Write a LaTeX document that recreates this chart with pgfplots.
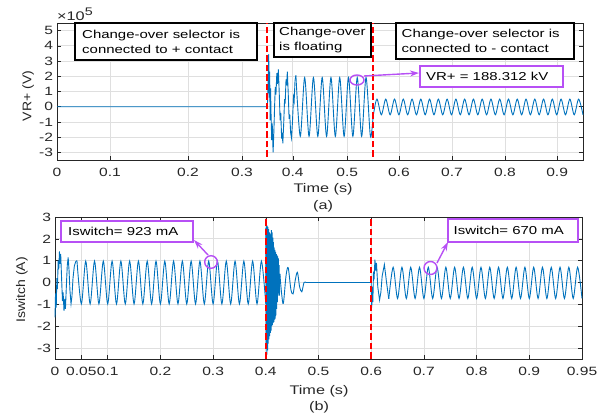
\documentclass[border=0pt]{standalone}
\usepackage{fontspec}
\setmainfont{Liberation Sans}[FakeStretch=1.3]
\newfontfamily\ylfont{Liberation Sans}[FakeStretch=1.12]
\usepackage{pgfplots}
\pgfplotsset{compat=1.18}
\usetikzlibrary{arrows.meta}
\definecolor{mblue}{RGB}{0,114,189}
\definecolor{mpurple}{RGB}{183,80,245}
\definecolor{mgrid}{RGB}{223,223,223}
\definecolor{maxis}{RGB}{38,38,38}
\pgfplotsset{
  mstyle/.style={
    scale only axis, clip=false,
    grid=major, major grid style={draw=mgrid, line width=0.7pt},
    axis line style={draw=maxis, line width=0.8pt},
    every tick/.style={draw=maxis, line width=0.6pt},
    major tick length=4pt, tick align=inside,
    tick label style={font=\fontsize{12}{13}\selectfont, text=maxis},
    xticklabel style={yshift=-4.5pt},
    yticklabel style={xshift=-0.5pt},
  },
}
\tikzset{
  curve/.style={mblue, line width=0.9pt},
  redl/.style={red, line width=2pt, dash pattern=on 6.5pt off 3pt},
  bbox/.style={line width=1.6pt, fill=white},
  pbox/.style={draw=mpurple, line width=1.6pt, fill=white},
  btext/.style={anchor=west, inner sep=0pt, align=left, font=\fontsize{11.5}{15}\selectfont},
  parr/.style={mpurple, line width=1.4pt, -{Stealth[length=9pt,width=6pt]}},
  xl/.style={font=\fontsize{12.5}{14}\selectfont, text=maxis},
  yl/.style={rotate=90, font=\ylfont\fontsize{12.5}{14}\selectfont, text=maxis},
}
\begin{document}
\begin{tikzpicture}[x=1pt,y=1pt]
\path[use as bounding box] (0,0) rectangle (614,414);
% ---------------- (a) ----------------
\begin{axis}[mstyle, at={(57pt,254pt)}, anchor=south west, width=526pt, height=137pt,
  xmin=0, xmax=120, ymin=-3.5, ymax=5.5,
  xtick={0,12.1,29.9,42.2,53.8,66.2,78,90.1,102.2,114.1},
  xticklabels={0,0.1,0.2,0.3,0.4,0.5,0.6,0.7,0.8,0.9},
  ytick={-3,-2,-1,0,1,2,3,4,5},
  yticklabels={-3,-2,-1,0,1,2,3,4,5}]
\addplot[curve] coordinates {(0,0) (48,0) (48.15,1.5) (48.3,3.45) (48.42,0.6) (48.52,2.3) (48.62,-0.9) (48.72,1.2) (48.84,-0.6) (48.98,-2.2) (49.1,-1.1) (49.3,-3.0) (49.48,-1.6) (49.65,0.1) (49.8,1.3) (49.95,0.8) (50.15,2.2) (50.3,1.5) (50.5,2.45) (50.7,0.9) (50.9,-0.9) (51.05,-0.4) (51.25,-2.1) (51.38,-1.7) (51.52,-2.4) (51.72,-1.1) (51.92,0.5) (52.05,0.2) (52.25,1.8) (52.38,1.4) (52.55,2.3) (52.75,0.9) (52.95,-0.8) (53.1,-0.5) (53.3,-1.7) (53.5,-2.05) (53.72,-1.0) (53.95,0.6) (54.1,0.35) (54.3,1.7) (54.5,2.05)};
\addplot[curve, smooth] coordinates {(54.5,2.05) (55.5,-1.95) (56.5,1.92) (57.5,-1.95) (58.5,1.92) (59.5,-1.95) (60.5,1.92) (61.5,-1.95) (62.5,1.92) (63.5,-1.95) (64.5,1.92) (65.5,-1.95) (66.5,1.92) (67.5,-1.95) (68.5,1.92) (69.5,-1.95) (70.5,1.92) (71.5,-1.95) (72.2,-0.5) (73,0.5) (74,-0.53) (75,0.5) (76,-0.53) (77,0.5) (78,-0.53) (79,0.5) (80,-0.53) (81,0.5) (82,-0.53) (83,0.5) (84,-0.53) (85,0.5) (86,-0.53) (87,0.5) (88,-0.53) (89,0.5) (90,-0.53) (91,0.5) (92,-0.53) (93,0.5) (94,-0.53) (95,0.5) (96,-0.53) (97,0.5) (98,-0.53) (99,0.5) (100,-0.53) (101,0.5) (102,-0.53) (103,0.5) (104,-0.53) (105,0.5) (106,-0.53) (107,0.5) (108,-0.53) (109,0.5) (110,-0.53) (111,0.5) (112,-0.53) (113,0.5) (114,-0.53) (115,0.5) (116,-0.53) (117,0.5) (118,-0.53) (119,0.5) (120,-0.53)};
\addplot[redl] coordinates {(48,-3.3) (48,5.5)};
\addplot[redl] coordinates {(72,-3.3) (72,5.5)};
\draw[bbox] (axis cs:4.11,5.5) rectangle (axis cs:45.63,3.07);
\node[btext] at (axis cs:4.11,4.285) [xshift=7pt] {Change-over selector is\\connected to + contact};
\draw[bbox] (axis cs:49.51,5.5) rectangle (axis cs:71.64,3.27);
\node[btext] at (axis cs:49.51,4.385) [xshift=5pt] {Change-over\\is floating};
\draw[bbox] (axis cs:77.34,5.5) rectangle (axis cs:117.95,3.135);
\node[btext] at (axis cs:77.34,4.32) [xshift=5.5pt] {Change-over selector is\\connected to - contact};
\draw[pbox] (axis cs:82.81,2.675) rectangle (axis cs:115.44,1.296);
\node[btext] at (axis cs:82.81,1.985) [xshift=6pt] {VR+ = 188.312 kV};
\draw[mpurple, line width=1.4pt] (axis cs:68.44,1.755) ellipse [x radius=7pt, y radius=5pt];
\draw[parr] (axis cs:69.99,2.018) -- (axis cs:82.59,2.215);
\node[anchor=south west, inner sep=0pt, font=\fontsize{12.5}{14}\selectfont, text=maxis] at (rel axis cs:0,1) [yshift=2.5pt] {×10\textsuperscript{\fontsize{11}{12}\selectfont 5}};
\node[xl] at (axis description cs:0.506,-0.212) {Time (s)};
\node[xl] at (axis description cs:0.506,-0.336) {(a)};
\node[yl] at (axis description cs:-0.055,0.467) {VR+ (V)};
\end{axis}
% ---------------- (b) ----------------
\begin{axis}[mstyle, at={(55pt,55pt)}, anchor=south west, width=527pt, height=142pt,
  xmin=0, xmax=120, ymin=-3.5, ymax=3,
  xtick={0,6,12,24,36,48,60,72,84,96,108,120},
  xticklabels={0,0.05,0.1,0.2,0.3,0.4,0.5,0.6,0.7,0.8,0.9,0.95},
  ytick={-3,-2,-1,0,1,2,3},
  yticklabels={-3,-2,-1,0,1,2,3}]
\addplot[curve] coordinates {(0,-1.6) (0.12,-0.5) (0.28,-1.15) (0.42,0.2) (0.55,-0.3) (0.72,1.0) (0.85,0.6) (1.02,1.42) (1.15,0.85) (1.3,1.3) (1.5,0.2) (1.7,-0.85) (1.85,-0.45) (2.05,-1.3) (2.22,-0.75) (2.38,-1.2) (2.6,-0.1) (2.8,0.8) (3.0,1.15) (3.2,0.55) (3.4,-0.35) (3.65,-0.97) (3.85,-0.65) (4.1,0.2) (4.4,0.75) (4.7,0.95) (5,1.0)};
\addplot[curve, smooth] coordinates {(5,1.0) (6,-0.98) (7,0.98) (8,-0.98) (9,0.98) (10,-0.98) (11,0.98) (12,-0.98) (13,0.98) (14,-0.98) (15,0.98) (16,-0.98) (17,0.98) (18,-0.98) (19,0.98) (20,-0.98) (21,0.98) (22,-0.98) (23,0.98) (24,-0.98) (25,0.98) (26,-0.98) (27,0.98) (28,-0.98) (29,0.98) (30,-0.98) (31,0.98) (32,-0.98) (33,0.98) (34,-0.98) (35,0.98) (36,-0.98) (37,0.98) (38,-0.98) (39,0.98) (40,-0.98) (41,0.98) (42,-0.98) (43,0.98) (44,-0.98) (45,0.98) (46,-0.98) (47,0.98) (48,-0.98)};
\addplot[curve] coordinates {(48.00,2.5) (48.08,-2.9) (48.16,2.65) (48.24,-3.3) (48.32,2.6) (48.40,-3.1) (48.48,2.55) (48.56,-2.8) (48.64,2.45) (48.72,-2.6) (48.80,2.3) (48.88,-2.45) (48.96,2.25) (49.04,-2.3) (49.12,2.2) (49.20,-2.2) (49.28,2.4) (49.36,-2.0) (49.44,2.3) (49.52,-1.95) (49.60,2.05) (49.68,-1.85) (49.76,1.85) (49.84,-1.8) (49.92,1.6) (50.00,-1.7) (50.08,1.5) (50.16,-1.65) (50.24,1.4) (50.32,-1.5) (50.40,1.3) (50.48,-1.2) (50.56,1.25) (50.64,-0.9) (50.72,1.2) (50.80,-0.6) (50.88,1.1) (50.96,-0.5) (51.04,0.8) (51.12,-0.6) (51.2,0.4)};
\addplot[curve, smooth] coordinates {(51.2,0.4) (51.6,-0.5) (52.0,-0.95) (52.6,0.3) (53.1,0.68) (53.7,-0.3) (54.2,-0.52) (54.7,0.1) (55.2,0.47) (55.7,-0.2) (56.2,-0.42) (56.7,0.0) (57.2,0.0)};
\addplot[curve] coordinates {(57.2,0) (72,0) (72.12,-1.15) (72.25,-0.2) (72.38,-0.9) (72.52,0.5) (72.65,0.15) (72.85,1.05) (73.0,0.55) (73.2,0.9) (73.5,-0.2) (73.9,-0.8) (74.2,-0.45) (74.5,0.3) (75.0,0.82) (75.5,0.0) (76.0,-0.75)};
\addplot[curve, smooth] coordinates {(76,-0.75) (77,0.7) (78,-0.73) (79,0.7) (80,-0.73) (81,0.7) (82,-0.73) (83,0.7) (84,-0.73) (85,0.7) (86,-0.73) (87,0.7) (88,-0.73) (89,0.7) (90,-0.73) (91,0.7) (92,-0.73) (93,0.7) (94,-0.73) (95,0.7) (96,-0.73) (97,0.7) (98,-0.73) (99,0.7) (100,-0.73) (101,0.7) (102,-0.73) (103,0.7) (104,-0.73) (105,0.7) (106,-0.73) (107,0.7) (108,-0.73) (109,0.7) (110,-0.73) (111,0.7) (112,-0.73) (113,0.7) (114,-0.73) (115,0.7) (116,-0.73) (117,0.7) (118,-0.73) (119,0.7) (120,-0.73)};
\addplot[redl] coordinates {(48,-3.5) (48,3)};
\addplot[redl] coordinates {(72,-3.5) (72,3)};
\draw[pbox] (axis cs:1.366,2.817) rectangle (axis cs:31.42,1.856);
\node[btext] at (axis cs:1.366,2.336) [xshift=7pt] {Iswitch= 923 mA};
\draw[mpurple, line width=1.4pt] (axis cs:35.52,0.94) circle [radius=6.3pt];
\draw[parr] (axis cs:34.84,1.261) -- (axis cs:31.65,1.947);
\draw[pbox] (axis cs:89.49,2.908) rectangle (axis cs:119.09,1.856);
\node[btext] at (axis cs:89.49,2.382) [xshift=5.5pt] {Iswitch= 670 mA};
\draw[mpurple, line width=1.4pt] (axis cs:85.50,0.665) circle [radius=6.5pt];
\draw[parr] (axis cs:86.98,0.894) -- (axis cs:89.49,1.856);
\node[xl] at (axis description cs:0.501,-0.225) {Time (s)};
\node[xl] at (axis description cs:0.501,-0.338) {(b)};
\node[yl] at (axis description cs:-0.0626,0.486) {Iswitch (A)};
\end{axis}
\end{tikzpicture}
\end{document}
